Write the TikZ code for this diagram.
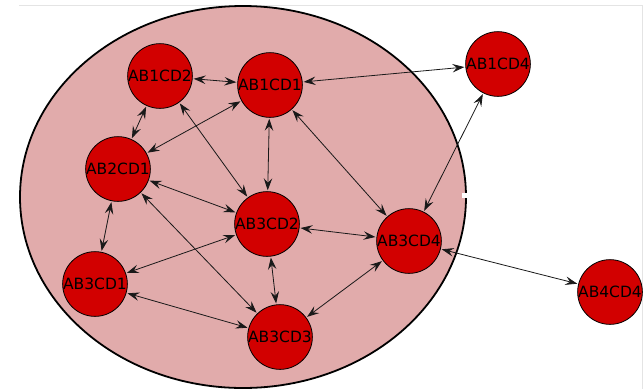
\documentclass[tikz,border=0pt]{standalone}
\usepackage{fontspec}
\setmainfont{DejaVu Sans}
\usetikzlibrary{arrows.meta}
\definecolor{nodered}{RGB}{210,0,0}
\definecolor{clusterpink}{RGB}{225,171,171}
\definecolor{edgegray}{RGB}{25,25,25}
\definecolor{framegray}{RGB}{228,228,228}
\begin{document}
\begin{tikzpicture}[x=1pt,y=-1pt,
  state/.style={circle, draw=black, line width=0.8pt, fill=nodered,
    minimum size=64pt, inner sep=0pt, text=black,
    font=\fontsize{15.5}{17}\selectfont},
  tip/.tip={Stealth[length=12pt,width=8.5pt,inset=4.5pt]},
  link/.style={draw=edgegray, line width=0.8pt, tip-tip,
    shorten <=1pt, shorten >=1pt}]
\useasboundingbox (0,0) rectangle (644,389);
% frame
\draw[framegray, line width=1pt] (19,5) -- (642,5) -- (642,389);
% cluster
\filldraw[fill=clusterpink, draw=black, line width=1.8pt]
  (243,197) ellipse [x radius=223pt, y radius=191pt];
\fill[white] (462,193) rectangle (470,198);
% states
\node[state] (a12) at (160,76)  {AB1CD2};
\node[state] (a11) at (270,85)  {AB1CD1};
\node[state] (a21) at (118,169) {AB2CD1};
\node[state] (a32) at (267,224) {AB3CD2};
\node[state] (a34) at (409,241) {AB3CD4};
\node[state] (a31) at (95,284)  {AB3CD1};
\node[state] (a33) at (280,337) {AB3CD3};
\node[state] (a14) at (498,64)  {AB1CD4};
\node[state] (a44) at (610,292) {AB4CD4};
% transitions
\draw[link] (a12) -- (a11);
\draw[link] (a12) -- (a21);
\draw[link] (a12) -- (a32);
\draw[link] (a11) -- (a21);
\draw[link] (a11) -- (a32);
\draw[link] (a11) -- (a34);
\draw[link] (a11) -- (a14);
\draw[link] (a14) -- (a34);
\draw[link] (a21) -- (a32);
\draw[link] (a21) -- (a31);
\draw[link] (a21) -- (a33);
\draw[link] (a31) -- (a32);
\draw[link] (a31) -- (a33);
\draw[link] (a32) -- (a33);
\draw[link] (a32) -- (a34);
\draw[link] (a33) -- (a34);
\draw[link] (a34) -- (a44);
\end{tikzpicture}
\end{document}
